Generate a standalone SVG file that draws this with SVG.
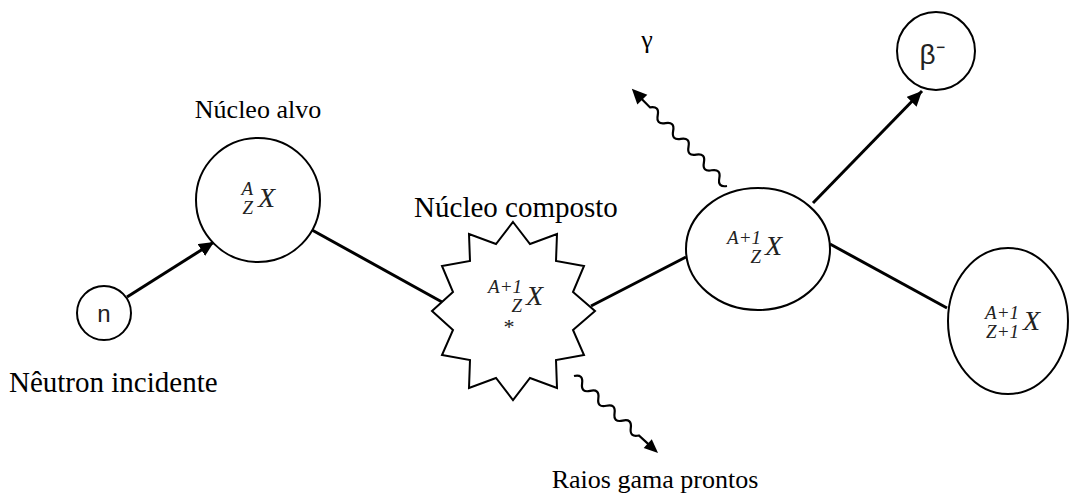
<svg xmlns="http://www.w3.org/2000/svg" width="1070" height="501" viewBox="0 0 1070 501">
<style>
.node{fill:#fff;stroke:#000;stroke-width:2}
.edge{stroke:#000;stroke-width:3;fill:none}
.wave{stroke:#000;stroke-width:2.2;fill:none}
.lbl{font-family:"Liberation Serif","Times New Roman",serif;font-size:26px;fill:#000}
.big{font-size:29px}
.m{font-family:"Liberation Serif","Times New Roman",serif;font-style:italic;fill:#222}
.mx{font-size:28px}
.ms{font-size:19px}
.sans{font-family:"Liberation Sans",Arial,sans-serif;fill:#222}
</style>
<defs>
<marker id="ah" markerUnits="userSpaceOnUse" markerWidth="16" markerHeight="14" refX="15" refY="7" orient="auto">
<path d="M0,0 L15,7 L0,14 Z" fill="#000"/>
</marker>
</defs>
<rect width="1070" height="501" fill="#fff"/>

<g id="connectors">
<line class="edge" x1="127" y1="297" x2="214" y2="242" marker-end="url(#ah)"/>
<line class="edge" x1="312" y1="230" x2="442" y2="302"/>
<line class="edge" x1="591" y1="306" x2="686" y2="257"/>
<line class="edge" x1="813" y1="203" x2="922" y2="91" marker-end="url(#ah)"/>
<line class="edge" x1="830" y1="244" x2="947" y2="308"/>
<g id="gamma-wave" transform="translate(727,186) rotate(-134.4)">
<path class="wave" d="M0,0 Q5.5,-8 11,0 T22,0 T33,0 T44,0 T55,0 T66,0 T77,0 T88,0 T99,0 T110,0 L124,0"/>
<path d="M136,0 L121,-7 L121,7 Z" fill="#000"/>
</g>
<g id="prompt-wave" transform="translate(574,376) rotate(42.5)">
<path class="wave" d="M0,0 Q5.5,-8 11,0 T22,0 T33,0 T44,0 T55,0 T66,0 T77,0 T88,0 L102,0"/>
<path d="M114,0 L100,-6 L100,6 Z" fill="#000"/>
</g>
</g>

<g id="neutron">
<circle class="node" cx="104" cy="313" r="27"/>
<text class="sans" x="104" y="322" font-size="24" text-anchor="middle">n</text>
<text class="lbl big" x="9" y="392">Nêutron incidente</text>
</g>

<g id="nucleo-alvo">
<circle class="node" cx="258" cy="200" r="62"/>
<text class="m ms" x="253" y="195" text-anchor="end">A</text>
<text class="m ms" x="253" y="214" text-anchor="end">Z</text>
<text class="m mx" x="258" y="207">X</text>
<text class="lbl" x="258" y="118" text-anchor="middle">Núcleo alvo</text>
</g>

<g id="nucleo-composto">
<polygon class="node" points="513,222 530,244 557,234 556,261 584,266 573,292 595,311 573,330 584,355 556,360 557,388 530,378 513,400 496,378 469,388 470,360 442,355 453,330 432,311 453,292 442,266 470,261 469,234 496,244"/>
<text class="m ms" x="522" y="293" text-anchor="end">A+1</text>
<text class="m ms" x="522" y="312" text-anchor="end">Z</text>
<text class="m mx" x="526" y="305">X</text>
<text class="m" x="508" y="334" font-size="22" text-anchor="middle">*</text>
<text class="lbl big" x="516" y="217" text-anchor="middle">Núcleo composto</text>
</g>

<g id="nucleo-A1">
<ellipse class="node" cx="758" cy="249" rx="72" ry="61"/>
<text class="m ms" x="761" y="244" text-anchor="end">A+1</text>
<text class="m ms" x="761" y="263" text-anchor="end">Z</text>
<text class="m mx" x="765" y="255">X</text>
</g>

<g id="beta">
<circle class="node" cx="936" cy="51" r="39"/>
<text class="sans" x="932" y="64" font-size="28" text-anchor="middle">β⁻</text>
</g>

<g id="nucleo-Z1">
<ellipse class="node" cx="1008" cy="321" rx="60" ry="73"/>
<text class="m ms" x="1019" y="319" text-anchor="end">A+1</text>
<text class="m ms" x="1019" y="338" text-anchor="end">Z+1</text>
<text class="m mx" x="1023" y="330">X</text>
</g>

<g id="labels">
<text class="lbl" x="647" y="48" font-size="24" text-anchor="middle">γ</text>
<text class="lbl" x="655" y="488" text-anchor="middle">Raios gama prontos</text>
</g>
</svg>
